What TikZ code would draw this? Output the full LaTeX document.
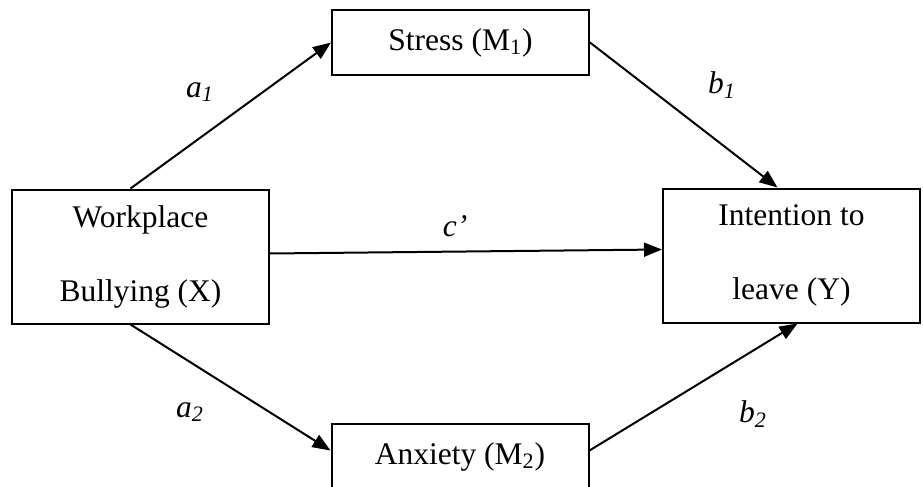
\documentclass[tikz,border=0pt]{standalone}
\usepackage{fontspec}
\setmainfont{Liberation Serif}
\usetikzlibrary{positioning, arrows.meta, calc}

\begin{document}
\begin{tikzpicture}[
  x=0.5pt, y=-0.5pt,
  every node/.style={font=\fontsize{15.75pt}{37pt}\selectfont},
  >=Triangle,
  varbox/.style={draw, line width=1pt, align=center, inner sep=0pt,
    minimum width=128.5pt, minimum height=32.5pt},
  bigbox/.style={varbox, minimum height=67pt},
  coef/.style={font=\fontsize{15.75pt}{19pt}\selectfont\itshape},
  arr/.style={-{Triangle[length=9pt, width=7pt]}, line width=1pt},
]
\useasboundingbox (0,0) rectangle (923,487);

%% ---- Predictor / outcome ----
\node[bigbox] (bully) at (140.5,256.5) {Workplace\\Bullying (X)};
\node[bigbox] (leave) at (791.5,255.5) {Intention to\\leave (Y)};

%% ---- Mediators ----
\node[varbox] (stress)  at (460.5,42.5)  {Stress (M\textsubscript{1})};
\node[varbox] (anxiety) at (460,456.5) {Anxiety (M\textsubscript{2})};

%% ---- Paths ----
\draw[arr] ([xshift=-5pt]bully.north) -- (stress.west);
\draw[arr] (stress.east) -- ([xshift=-7pt]leave.north);
\draw[arr] ([yshift=1.5pt]bully.east) -- ([yshift=3pt]leave.west);
\draw[arr] ([xshift=-5pt]bully.south) -- ([yshift=3pt]anxiety.west);
\draw[arr] ([yshift=3pt]anxiety.east) -- ([xshift=3pt]leave.south);

%% ---- Coefficients ----
\node[coef] (a1) at (200,92)  {a\textsubscript{1}};
\node[coef] (b1) at (722,85)  {b\textsubscript{1}};
\node[coef] (cp) at (455,226) {c’};
\node[coef] (a2) at (190,412) {a\textsubscript{2}};
\node[coef] (b2) at (753,414) {b\textsubscript{2}};

\end{tikzpicture}
\end{document}
